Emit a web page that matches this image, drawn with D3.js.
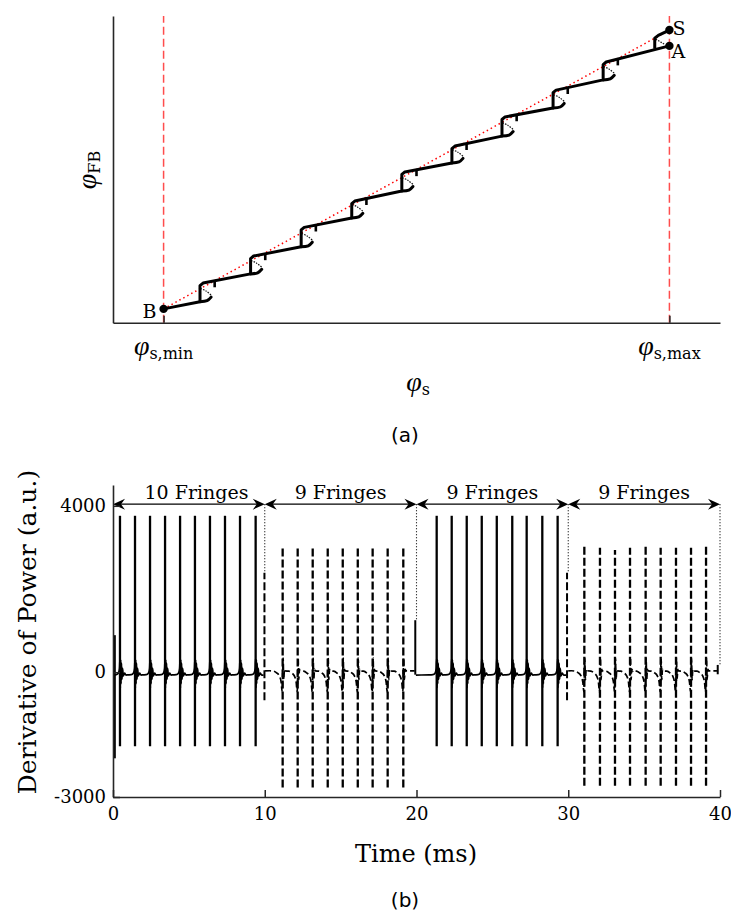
<!DOCTYPE html>
<html><head><meta charset="utf-8">
<script src="https://cdn.jsdelivr.net/npm/d3@7"></script>
<style>body{margin:0;background:#fff}svg{display:block}</style>
</head><body>
<svg id="c" width="731" height="911"></svg>
<script>
// ================= Panel (a) data (normalised phase units) =================
const phiMarks   = [1.0, 11.0];                 // φs,min , φs,max
const phiMarkSub = ["s,min", "s,max"];
const riserX     = [1.72, 2.72, 3.72, 4.72, 5.71, 6.70, 7.69, 8.70, 9.69];
const riserLow   = [0.82, 1.91, 2.97, 4.10, 5.15, 6.25, 7.30, 8.40, 9.50];
const riserHigh  = [1.51, 2.57, 3.69, 4.72, 5.86, 6.87, 8.01, 9.06, 10.16];
const pointNames = ["B", "A", "S"];
const pointX     = [1.0, 11.0, 11.0];
const pointY     = [0.54, 10.83, 11.45];
const branchX    = 10.71, branchLow = 10.72, branchHigh = 11.19;

// ================= Panel (b) data =================
const timeTicks    = [0, 10, 20, 30, 40];
const powerTicks   = [4000, 0, -3000];
const fringeLabels = ["10 Fringes", "9 Fringes", "9 Fringes", "9 Fringes"];
const fringeBounds = [0, 10, 20, 30, 40];
const fringeLabelT = [5.5, 15, 25, 35];
const arrowLevel   = 4040;

const seg1Times  = [0.46, 1.45, 2.44, 3.43, 4.42, 5.40, 6.39, 7.38, 8.37, 9.40];
const seg1Top    = [3760, 3760, 3760, 3760, 3760, 3760, 3760, 3760, 3760, 3760];
const seg1Bottom = [-1780, -1780, -1780, -1780, -1780, -1780, -1780, -1780, -1780, -1780];
const seg2Times  = [11.18, 12.17, 13.16, 14.15, 15.14, 16.13, 17.11, 18.10, 19.13];
const seg2Top    = [2990, 2990, 3000, 3000, 3000, 3000, 3000, 3000, 3000];
const seg2Bottom = [-2770, -2770, -2770, -2770, -2770, -2770, -2770, -2770, -2770];
const seg3Times  = [21.33, 22.32, 23.31, 24.30, 25.29, 26.31, 27.26, 28.29, 29.30];
const seg3Top    = [3760, 3760, 3760, 3760, 3760, 3760, 3760, 3760, 3760];
const seg3Bottom = [-1780, -1780, -1780, -1780, -1780, -1780, -1780, -1780, -1780];
const seg4Times  = [31.06, 32.09, 33.08, 34.07, 35.10, 36.09, 37.10, 38.09, 39.08];
const seg4Top    = [3030, 2990, 2940, 2990, 3015, 2990, 2990, 2990, 3015];
const seg4Bottom = [-2730, -2730, -2730, -2730, -2730, -2730, -2730, -2730, -2730];
const segStart   = [0.05, 10.02, 19.96, 30.00];
const segEnd     = [9.92, 19.88, 29.86, 39.80];
const segStyle   = ["solid", "dashed", "solid", "dashed"];

const edgeTimes  = [0.12, 9.98, 19.92, 29.92, 39.85];
const edgeTop    = [890, 2390, 1250, 2390, 175];
const edgeBottom = [-2070, -675, -60, -675, -50];
const edgeStyle  = ["solid", "dashed", "solid", "dashed", "solid"];

// pulse shapes: [dt (ms), value]
const solidPulse  = [[-0.50,-65],[-0.25,-60],[-0.10,-20],[-0.03,90],[0.00,320],[0.02,-380],[0.045,300],[0.07,-280],[0.10,220],[0.13,-170],[0.17,90],[0.22,-90],[0.30,-20],[0.40,-68]];
const dashedPulse = [[-0.85,35],[-0.60,25],[-0.40,-15],[-0.22,-90],[-0.10,-240],[-0.03,-470],[0.03,340],[0.07,-180],[0.12,70],[0.18,30]];

// ================= drawing =================
const svg = d3.select("#c");
const SERIF = "'DejaVu Serif',serif";
const PHI = "'Liberation Serif',serif";
const AX = "#262626";

// ---------- Panel (a) ----------
const xa = d3.scaleLinear().domain([0, 12]).range([113, 720]);
const ya = d3.scaleLinear().domain([0, 12]).range([322.7, 16]);
const gA = svg.append("g");

gA.selectAll("line.rv").data(phiMarks).join("line").attr("class","rv")
  .attr("x1", d => xa(d)).attr("x2", d => xa(d))
  .attr("y1", ya(0)).attr("y2", ya(12))
  .attr("stroke", "#ff4d4d").attr("stroke-width", 1.5).attr("stroke-dasharray", "8,4");

// red dotted reference line B -> S
gA.append("line")
  .attr("x1", xa(pointX[0])).attr("y1", ya(pointY[0]))
  .attr("x2", xa(pointX[2])).attr("y2", ya(pointY[2]))
  .attr("stroke", "#ff0000").attr("stroke-width", 1.5).attr("stroke-dasharray", "1.5,3");

const lineA = d3.line().x(d => xa(d[0])).y(d => ya(d[1]));
const curveA = d3.line().x(d => xa(d[0])).y(d => ya(d[1])).curve(d3.curveCatmullRom);
const mainPts = [[pointX[0], pointY[0]]];
riserX.forEach((rx, i) => {
  mainPts.push([rx, riserLow[i]], [rx, riserHigh[i] - 0.06], [rx + 0.06, riserHigh[i] + 0.04]);
});
mainPts.push([pointX[1], pointY[1]]);

// dotted S-loops
riserX.forEach((rx, i) => {
  gA.append("path").attr("d", curveA([[rx + 0.01, riserLow[i] + 0.52], [rx + 0.12, riserLow[i] + 0.42], [rx + 0.22, riserLow[i] + 0.26]]))
    .attr("fill", "none").attr("stroke", "#111").attr("stroke-width", 1.2).attr("stroke-dasharray", "1.5,1.2");
});
gA.append("path").attr("d", lineA([[branchX + 0.02, branchHigh - 0.1], [branchX + 0.2, branchHigh - 0.3]]))
  .attr("fill","none").attr("stroke","#111").attr("stroke-width",1.2).attr("stroke-dasharray","1.5,1.2");

gA.append("path").attr("d", lineA(mainPts))
  .attr("fill", "none").attr("stroke", "#000").attr("stroke-width", 3).attr("stroke-linejoin", "round");
gA.append("path").attr("d", lineA([[branchX, branchLow], [branchX, branchHigh - 0.06], [branchX + 0.07, branchHigh + 0.05], [pointX[2], pointY[2]]]))
  .attr("fill", "none").attr("stroke", "#000").attr("stroke-width", 3).attr("stroke-linejoin", "round");

// hooks at the bottom of each riser
riserX.forEach((rx, i) => {
  gA.append("path").attr("d", curveA([[rx, riserLow[i]], [rx + 0.14, riserLow[i] + 0.04], [rx + 0.22, riserLow[i] + 0.18]]))
    .attr("fill", "none").attr("stroke", "#000").attr("stroke-width", 3).attr("stroke-linecap", "round");
});
// short ticks on the slopes
riserX.forEach((rx, i) => {
  const nx = i + 1 < riserX.length ? riserX[i + 1] : pointX[1];
  const ny = i + 1 < riserX.length ? riserLow[i + 1] : pointY[1];
  const s = (ny - riserHigh[i]) / (nx - rx);
  const tx = rx + 0.29, ty = riserHigh[i] + s * 0.29;
  gA.append("line").attr("x1", xa(tx)).attr("x2", xa(tx)).attr("y1", ya(ty)).attr("y2", ya(ty - 0.24))
    .attr("stroke", "#000").attr("stroke-width", 2.6);
});

gA.selectAll("circle").data(pointNames).join("circle")
  .attr("cx", (d, i) => xa(pointX[i])).attr("cy", (d, i) => ya(pointY[i])).attr("r", 4.2).attr("fill", "#000");

// axes (a)
const axA_x = gA.append("g").attr("transform", `translate(0,${ya(0)})`)
  .call(d3.axisBottom(xa).tickValues(phiMarks).tickSize(-7).tickSizeOuter(0).tickFormat(""));
const axA_y = gA.append("g").attr("transform", `translate(${xa(0)},0)`)
  .call(d3.axisLeft(ya).tickValues([]).tickSizeOuter(0));
[axA_x, axA_y].forEach(g => { g.select(".domain").attr("stroke", AX).attr("stroke-width", 1.6);
  g.selectAll(".tick line").attr("stroke", AX).attr("stroke-width", 1.5); });

// point labels
const lblPos = [[-7, 9, "end"], [2, 12, "start"], [3, 5, "start"]];
pointNames.forEach((n, i) => {
  gA.append("text").text(n).attr("x", xa(pointX[i]) + lblPos[i][0]).attr("y", ya(pointY[i]) + lblPos[i][1])
    .attr("text-anchor", lblPos[i][2]).style("font-family", SERIF).style("font-size", "19px");
});

function phiText(g, x, y, sub, anchor) {
  const t = g.append("text").attr("x", x).attr("y", y).attr("text-anchor", anchor || "middle").style("font-family", SERIF);
  t.append("tspan").text("φ").style("font-family", PHI).style("font-style", "italic").style("font-size", "28px");
  t.append("tspan").text(sub).style("font-size", "16px").attr("dy", 4);
  return t;
}
phiMarks.forEach((m, i) => phiText(gA, xa(m), 355, phiMarkSub[i]));
phiText(gA, 418, 391, "s");
phiText(gA, 0, 0, "FB").attr("transform", "translate(96,170) rotate(-90)");

svg.append("text").text("(a)").attr("x", 405).attr("y", 442).attr("text-anchor", "middle")
  .style("font-family", "'DejaVu Sans',sans-serif").style("font-size", "20px");

// ---------- Panel (b) ----------
const xb = d3.scaleLinear().domain([0, 40]).range([113, 720]);
const yb = d3.scaleLinear().domain([-3000, 4500]).range([797, 485]);
const gB = svg.append("g");
const lineB = d3.line().x(d => xb(d[0])).y(d => yb(d[1])).curve(d3.curveMonotoneX);

const segs = [
  {t: seg1Times, top: seg1Top, bot: seg1Bottom},
  {t: seg2Times, top: seg2Top, bot: seg2Bottom},
  {t: seg3Times, top: seg3Top, bot: seg3Bottom},
  {t: seg4Times, top: seg4Top, bot: seg4Bottom}
];
const dashFor = s => s === "dashed" ? "8,3" : null;

segs.forEach((sg, k) => {
  const tpl = segStyle[k] === "solid" ? solidPulse : dashedPulse;
  const pts = [[segStart[k], tpl[tpl.length - 1][1]]];
  sg.t.forEach(t0 => tpl.forEach(p => pts.push([t0 + p[0], p[1]])));
  pts.push([segEnd[k], tpl[tpl.length - 1][1]]);
  const clean = pts.filter(p => p[0] >= segStart[k] && p[0] <= segEnd[k]).sort((a, b) => a[0] - b[0]);
  gB.append("path").attr("d", lineB(clean))
    .attr("fill", "none").attr("stroke", "#000").attr("stroke-width", 1.7)
    .attr("stroke-dasharray", segStyle[k] === "dashed" ? "6,3" : null);
  sg.t.forEach((t0, j) => {
    gB.append("line").attr("x1", xb(t0)).attr("x2", xb(t0)).attr("y1", yb(sg.bot[j])).attr("y2", yb(sg.top[j]))
      .attr("stroke", "#000").attr("stroke-width", 2.3).attr("stroke-dasharray", dashFor(segStyle[k]));
  });
});
edgeTimes.forEach((t0, j) => {
  gB.append("line").attr("x1", xb(t0)).attr("x2", xb(t0)).attr("y1", yb(edgeBottom[j])).attr("y2", yb(edgeTop[j]))
    .attr("stroke", "#000").attr("stroke-width", 2).attr("stroke-dasharray", dashFor(edgeStyle[j]));
});
// dotted boundary lines
fringeBounds.slice(1).forEach((b, j) => {
  gB.append("line").attr("x1", xb(b)).attr("x2", xb(b)).attr("y1", yb(arrowLevel)).attr("y2", yb(edgeTop[j + 1]))
    .attr("stroke", "#000").attr("stroke-width", 1.1).attr("stroke-dasharray", "1,2");
});
// arrows
function head(tx, ty, dir) {
  const L = 12 * dir, Wd = 5.5, I = 8 * dir;
  return `M${tx},${ty}L${tx + L},${ty - Wd}L${tx + I},${ty}L${tx + L},${ty + Wd}Z`;
}
fringeLabels.forEach((lab, i) => {
  const xL = xb(fringeBounds[i]), xR = xb(fringeBounds[i + 1]), yy = yb(arrowLevel);
  gB.append("line").attr("x1", xL + 4).attr("x2", xR - 4).attr("y1", yy).attr("y2", yy).attr("stroke", "#000").attr("stroke-width", 1.3);
  gB.append("path").attr("d", head(xL, yy, 1)).attr("fill", "#000");
  gB.append("path").attr("d", head(xR, yy, -1)).attr("fill", "#000");
  gB.append("text").text(lab).attr("x", xb(fringeLabelT[i])).attr("y", yy - 5).attr("text-anchor", "middle")
    .style("font-family", SERIF).style("font-size", "19px");
});

// axes (b)
const axB_x = gB.append("g").attr("transform", `translate(0,${yb(-3000)})`)
  .call(d3.axisBottom(xb).tickValues(timeTicks).tickSize(-7).tickSizeOuter(0).tickPadding(10).tickFormat(d => String(d)));
const axB_y = gB.append("g").attr("transform", `translate(${xb(0)},0)`)
  .call(d3.axisLeft(yb).tickValues(powerTicks).tickSize(-7).tickSizeOuter(0).tickPadding(7).tickFormat(d => String(d)));
[axB_x, axB_y].forEach(g => {
  g.attr("font-family", null).attr("font-size", null);
  g.select(".domain").attr("stroke", AX).attr("stroke-width", 1.6);
  g.selectAll(".tick line").attr("stroke", AX).attr("stroke-width", 1.5);
  g.selectAll(".tick text").attr("fill", "#000").style("font-family", SERIF).style("font-size", "18px");
});

gB.append("text").text("Time (ms)").attr("x", 416).attr("y", 862).attr("text-anchor", "middle")
  .style("font-family", SERIF).style("font-size", "24px");
gB.append("text").text("Derivative of Power (a.u.)").attr("transform", "translate(36,632) rotate(-90)")
  .attr("text-anchor", "middle").style("font-family", SERIF).style("font-size", "25px");
svg.append("text").text("(b)").attr("x", 405).attr("y", 907).attr("text-anchor", "middle")
  .style("font-family", "'DejaVu Sans',sans-serif").style("font-size", "20px");
</script>
</body></html>
